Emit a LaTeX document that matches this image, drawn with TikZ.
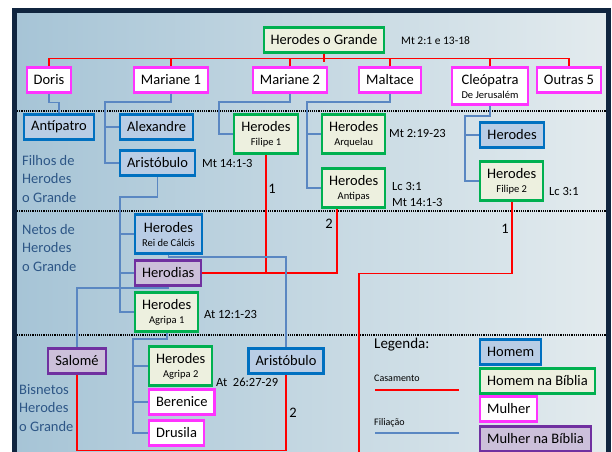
\documentclass[tikz,border=0pt]{standalone}
\usepackage{fontspec}
\setmainfont{Carlito}

\definecolor{azulborda}{HTML}{0070C0}
\definecolor{azulfundo}{HTML}{B9CDE5}
\definecolor{verdeborda}{HTML}{00B050}
\definecolor{verdefundo}{HTML}{EDF0DF}
\definecolor{rosaborda}{HTML}{FF33FF}
\definecolor{roxoborda}{HTML}{7030A0}
\definecolor{roxofundo}{HTML}{CCC0DA}
\definecolor{azullinha}{HTML}{5A87C2}
\definecolor{azultexto}{HTML}{2D5686}
\definecolor{moldura}{HTML}{10253F}
\definecolor{fundoesq}{HTML}{A6C4D6}
\definecolor{fundomeio}{HTML}{C8DAE3}
\definecolor{fundodir}{HTML}{E3EBEE}

\newcommand{\subnome}[1]{\\[-2pt]{\fontsize{10.5}{11}\selectfont #1}}

\begin{document}
\begin{tikzpicture}[x=1pt, y=-1pt,
    pessoa/.style={draw, line width=2.2pt, font=\fontsize{14.5}{16}\selectfont,
        minimum height=25pt, inner xsep=7pt, inner ysep=2pt, align=center},
    homem/.style={pessoa, draw=azulborda, fill=azulfundo},
    homembib/.style={pessoa, draw=verdeborda, fill=verdefundo},
    mulher/.style={pessoa, draw=rosaborda, fill=white},
    mulherbib/.style={pessoa, draw=roxoborda, fill=roxofundo},
    duas/.style={minimum height=39pt},
    casamento/.style={draw=red, line width=1.6pt},
    filiacao/.style={draw=azullinha, line width=1.6pt},
    ref/.style={font=\fontsize{12.5}{14}\selectfont, anchor=west, inner sep=0pt},
    numero/.style={font=\fontsize{14.5}{16}\selectfont, inner sep=0pt},
    geracao/.style={font=\fontsize{14.5}{18.5}\selectfont, text=azultexto,
        align=left, anchor=north west, inner sep=0pt},
    divisoria/.style={densely dotted, line width=1.2pt}
]
    \useasboundingbox (0,0) rectangle (612,451);
    % fundo e moldura
    \shade[left color=fundoesq, middle color=fundomeio, right color=fundodir]
        (14,10) rectangle (609,460);
    \draw[line width=5pt, moldura] (14.5,10.5) rectangle (608.5,470);
    \draw[divisoria] (17,111) -- (606,111);
    \draw[divisoria] (17,211) -- (606,211);
    \draw[divisoria] (17,335) -- (606,335);

    % geracoes
    \node[geracao] (filhos) at (22,155) {Filhos de\\Herodes\\o Grande};
    \node[geracao] (netos) at (22,224) {Netos de\\Herodes\\o Grande};
    \node[geracao] (bisnetos) at (19,384) {Bisnetos\\Herodes\\o Grande};

    % Herodes o Grande e esposas
    \node[homembib] (herodes) at (324,40) {Herodes o Grande};
    \node[ref, font=\fontsize{11.5}{13}\selectfont] (refherodes) at (401,41) {Mt 2:1 e 13-18};
    \node[mulher] (doris) at (49,80) {Doris};
    \node[mulher] (mar1) at (171,80) {Mariane 1};
    \node[mulher] (mar2) at (290,80) {Mariane 2};
    \node[mulher] (maltace) at (390,80) {Maltace};
    \node[mulher, minimum width=76pt, minimum height=37pt] (cleopatra) at (490,86)
        {Cleópatra\subnome{De Jerusalém}};
    \node[mulher] (outras) at (569,80) {Outras 5};

    % filhos
    \node[homem] (antipatro) at (59,127) {Antípatro};
    \node[homem, anchor=west] (alexandre) at (119,127) {Alexandre};
    \node[homem, anchor=west] (aristobulo) at (119,163) {Aristóbulo};
    \node[ref] (refaristobulo) at (202,163) {Mt 14:1-3};
    \node[homembib, duas] (filipe1) at (266,134) {Herodes\subnome{Filipe 1}};
    \node[homembib, duas, anchor=west] (arquelau) at (321,134) {Herodes\subnome{Arquelau}};
    \node[ref] (refarquelau) at (389,133) {Mt 2:19-23};
    \node[homembib, duas, anchor=west] (antipas) at (321,188) {Herodes\subnome{Antipas}};
    \node[ref] (refantipas1) at (392,186) {Lc 3:1};
    \node[ref] (refantipas2) at (392,202) {Mt 14:1-3};
    \node[homem, anchor=west, minimum width=64pt] (herodesc) at (479,135) {Herodes};
    \node[homembib, duas, anchor=west] (filipe2) at (479,181) {Herodes\subnome{Filipe 2}};
    \node[ref] (reffilipe2) at (549,191) {Lc 3:1};

    % netos
    \node[homem, duas, anchor=west] (calcis) at (134,234) {Herodes\subnome{Rei de Cálcis}};
    \node[mulherbib, anchor=west] (herodias) at (134,273) {Herodias};
    \node[homembib, duas, anchor=west] (agripa1) at (134,312) {Herodes\subnome{Agripa 1}};
    \node[ref] (refagripa1) at (204,314) {At 12:1-23};

    % bisnetos
    \node[mulherbib] (salome) at (77,361) {Salomé};
    \node[homembib, duas, anchor=west] (agripa2) at (148,366) {Herodes\subnome{Agripa 2}};
    \node[ref] (refagripa2) at (216,382) {At\ \ 26:27-29};
    \node[mulher, anchor=west] (berenice) at (148,402) {Berenice};
    \node[mulher, anchor=west] (drusila) at (148,433) {Drusila};
    \node[homem] (aristobulo2) at (286,361) {Aristóbulo};
    \coordinate (fimfilipe2) at (359,455);

    % casamentos
    \draw[casamento] (doris.north) -- ++(0,-8) -| (outras.north);
    \draw[casamento] (herodes.south) -- ++(0,8);
    \foreach \n in {mar1,mar2,maltace} {
        \draw[casamento] (\n.north) -- ++(0,-8);
    }
    \draw[casamento] (cleopatra.north) -- ++(0,-8);
    \draw[casamento] (herodias.east) -| (filipe1.south);
    \draw[casamento] (herodias.east) -| ([xshift=-17pt]antipas.south);
    \draw[casamento] (filipe2.south) -- ++(0,72) -| (fimfilipe2);
    \draw[casamento] (salome.south) -- ++(0,76) -| (aristobulo2.south);
    \node[numero] (n1a) at (272,189) {1};
    \node[numero] (n2a) at (329,224) {2};
    \node[numero] (n1b) at (505,229) {1};
    \node[numero] (n2b) at (293,413) {2};

    % filiacao
    \draw[filiacao] (doris.south) -- ++(0,9) -| (antipatro.north);
    \draw[filiacao] (mar1.south) |- (105,102) |- (aristobulo.west);
    \draw[filiacao] (alexandre.west) -- ++(-14,0);
    \draw[filiacao] (mar2.south) |- (219,102) |- (filipe1.west);
    \draw[filiacao] (maltace.south) |- (307,102) |- (antipas.west);
    \draw[filiacao] (arquelau.west) -- ++(-14,0);
    \draw[filiacao] (cleopatra.south) |- (465,116) |- (filipe2.west);
    \draw[filiacao] (herodesc.west) -- ++(-14,0);
    \draw[filiacao] (aristobulo.south) |- (120,197) |- (agripa1.west);
    \draw[filiacao] (calcis.west) -- ++(-14,0);
    \draw[filiacao] (herodias.west) -- ++(-14,0);
    \draw[filiacao] (calcis.south) |- (286,257) -- (aristobulo2.north);
    \draw[filiacao] (herodias.south) |- (77,288) -- (salome.north);
    \draw[filiacao] (agripa1.south) |- (133,339) |- (drusila.west);
    \draw[filiacao] (agripa2.west) -- ++(-15,0);
    \draw[filiacao] (berenice.west) -- ++(-15,0);

    % legenda
    \node[anchor=west, inner sep=0pt, font=\fontsize{15}{16}\selectfont] (legenda) at (374,345) {Legenda:};
    \node[anchor=west, inner sep=0pt, font=\fontsize{10}{11}\selectfont] (legcas) at (374,378) {Casamento};
    \draw[casamento] (375,390) -- (459,390);
    \node[anchor=west, inner sep=0pt, font=\fontsize{10}{11}\selectfont] (legfil) at (374,423) {Filiação};
    \draw[filiacao] (375,433) -- (459,433);
    \node[homem, anchor=west] (leghomem) at (479,352) {Homem};
    \node[homembib, anchor=west] (leghomembib) at (479,381) {Homem na Bíblia};
    \node[mulher, anchor=west] (legmulher) at (479,409) {Mulher};
    \node[mulherbib, anchor=west] (legmulherbib) at (479,439) {Mulher na Bíblia};
\end{tikzpicture}
\end{document}
